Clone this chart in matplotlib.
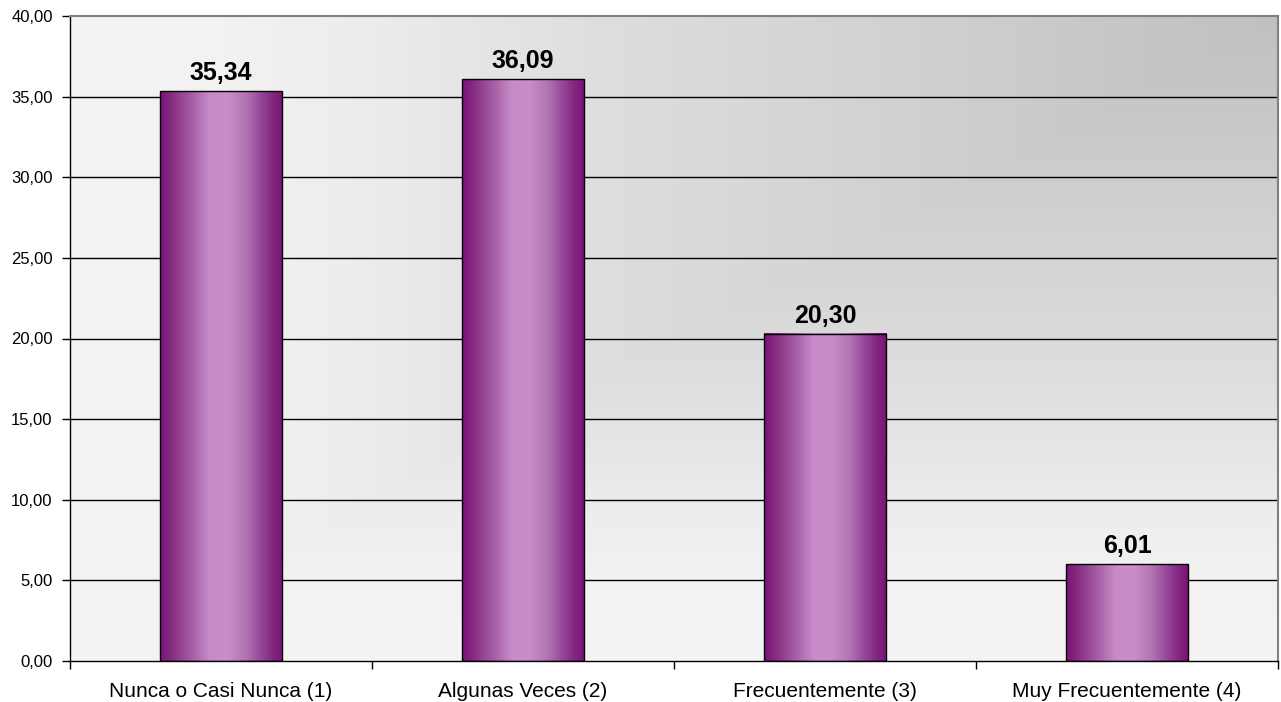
import numpy as np
import matplotlib
matplotlib.use("Agg")
import matplotlib.pyplot as plt
from matplotlib.colors import LinearSegmentedColormap
from matplotlib.ticker import FuncFormatter, FixedLocator

plt.rcParams['font.family'] = ['Liberation Sans', 'DejaVu Sans']

categories = ["Nunca o Casi Nunca (1)", "Algunas Veces (2)",
              "Frecuentemente (3)", "Muy Frecuentemente (4)"]
values = [35.34, 36.09, 20.30, 6.01]
y_ticks = [0, 5, 10, 15, 20, 25, 30, 35, 40]


def comma(v):
    return f"{v:.2f}".replace('.', ',')


fig = plt.figure(figsize=(12.81, 7.02), dpi=100)
ax = fig.add_axes([70 / 1281, 41 / 702, 1208 / 1281, 645 / 702])

x_lo, x_hi = -0.5, len(categories) - 0.5
y_lo, y_hi = 0, 40

# plot-area background: corner gradient, dark at top right, light elsewhere
nx, ny = 600, 320
u = np.linspace(1, 0, nx)[None, :]          # distance from the right edge
v = np.linspace(1, 0, ny)[:, None]          # distance from the top edge (row 0 = bottom)
t = np.maximum(u, v)
grey = np.interp(t, [0, 0.44, 0.56, 0.75, 0.87, 1.0],
                 [192, 216, 222, 236, 242, 244]) / 255.0
bg = np.dstack([grey, grey, grey])
ax.imshow(bg, extent=[x_lo, x_hi, y_lo, y_hi], origin='lower',
          aspect='auto', interpolation='bilinear', zorder=0)

# horizontal grid lines
for yv in y_ticks[1:-1]:
    ax.axhline(yv, color='black', lw=1.0, zorder=1)

# bars with a cylindrical purple shading
bar_cmap = LinearSegmentedColormap.from_list(
    "cyl",
    [(0.00, "#7a127a"), (0.08, "#85287f"), (0.25, "#a45ca4"),
     (0.40, "#c78bc7"), (0.55, "#c98ec9"), (0.70, "#b274b2"),
     (0.82, "#95489a"), (0.92, "#84257f"), (1.00, "#7a127a")])
shade = np.linspace(0, 1, 256)[None, :]
bar_w = 0.405
for i, val in enumerate(values):
    x0, x1 = i - bar_w / 2, i + bar_w / 2
    ax.imshow(shade, cmap=bar_cmap, extent=[x0, x1, 0, val], origin='lower',
              aspect='auto', interpolation='bilinear', zorder=2)
    ax.add_patch(plt.Rectangle((x0, 0), bar_w, val, fill=False,
                               edgecolor='black', lw=1.0, zorder=3))
    ax.annotate(comma(val), xy=(i, val), xytext=(0, 8), textcoords='offset points',
                ha='center', va='baseline', fontsize=18, fontweight='bold',
                color='black', zorder=4)

ax.set_xlim(x_lo, x_hi)
ax.set_ylim(y_lo, y_hi)

ax.yaxis.set_major_locator(FixedLocator(y_ticks))
ax.yaxis.set_major_formatter(FuncFormatter(lambda v, p: comma(v)))
ax.tick_params(axis='y', direction='out', length=6, width=1, color='black',
               labelsize=12, pad=6.5)

# category boundaries carry the tick marks; labels sit at the centres
ax.xaxis.set_major_locator(FixedLocator(np.arange(x_lo, x_hi + 0.01, 1.0)))
ax.xaxis.set_major_formatter(FuncFormatter(lambda v, p: ""))
ax.xaxis.set_minor_locator(FixedLocator(range(len(categories))))
ax.set_xticklabels(categories, minor=True)
ax.tick_params(axis='x', which='major', direction='out', length=6, width=1, color='black')
ax.tick_params(axis='x', which='minor', length=0, labelsize=15, pad=15)

for side in ('left', 'bottom'):
    ax.spines[side].set_color('black')
    ax.spines[side].set_linewidth(1.0)
for side in ('top', 'right'):
    ax.spines[side].set_color('#808080')
    ax.spines[side].set_linewidth(1.5)
for s in ax.spines.values():
    s.set_zorder(5)

fig.savefig("out.png", dpi=100, facecolor='white')
